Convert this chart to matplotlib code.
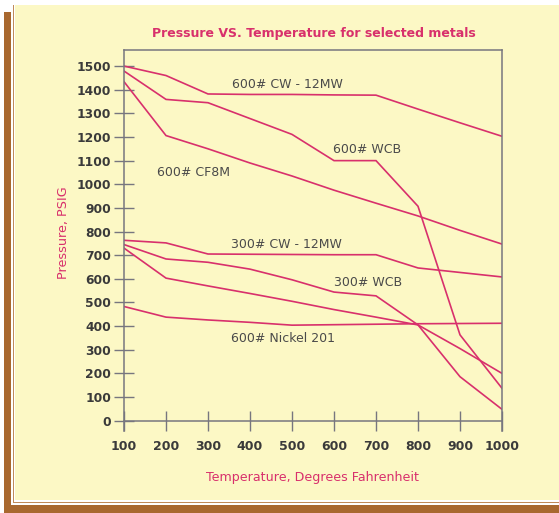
import matplotlib
matplotlib.use("Agg")
import matplotlib.pyplot as plt
from matplotlib.patches import Rectangle

# ---- data ----
temps = [100, 200, 300, 400, 500, 600, 700, 800, 900, 1000]
cw600 = [1500, 1460, 1382, 1380, 1380, 1378, 1377, 1318, 1260, 1203]
wcb600 = [1479, 1359, 1345, 1278, 1211, 1100, 1100, 907, 363, 137]
cf8m600 = [1434, 1206, 1150, 1090, 1035, 975, 920, 866, 805, 747]
cw300 = [763, 752, 705, 704, 703, 702, 702, 646, 627, 608]
wcb300 = [745, 684, 670, 641, 596, 544, 528, 405, 186, 48]
cf8m300 = [730, 603, 570, 538, 505, 470, 438, 405, 305, 200]
ni600 = [483, 438, 426, 416, 404, 406, 408, 410, 411, 412]

labels = ["600# CW - 12MW", "600# WCB", "600# CF8M",
          "300# CW - 12MW", "300# WCB", "600# Nickel 201"]
label_x = [488, 678, 265, 486, 681, 478]
label_y = [1423, 1148, 1049, 747, 585, 346]

yticks = list(range(0, 1501, 100))
title = "Pressure VS. Temperature for selected metals"
xlabel = "Temperature, Degrees Fahrenheit"
ylabel = "Pressure, PSIG"

# ---- style ----
W, H = 559, 513
cream = "#fcf8c5"
brown = "#a8682f"
red = "#d8306c"
grey = "#77767f"
txt = "#3a3a3a"

fig = plt.figure(figsize=(W / 100, H / 100), dpi=100)
fig.patch.set_facecolor("white")

def px_rect(x0, y0, x1, y1, color, z=-10):
    fig.patches.append(Rectangle((x0 / W, 1 - y1 / H), (x1 - x0) / W, (y1 - y0) / H,
                                 transform=fig.transFigure, facecolor=color,
                                 edgecolor="none", zorder=z))

# frame decoration
px_rect(4, 12, 11, 513, brown, -10)
px_rect(4, 505, 559, 513, brown, -10)
px_rect(13, 5, 559, 503, "#c08a5a", -9)
px_rect(14, 5, 559, 501.5, "white", -8)
px_rect(15, 5, 559, 500, cream, -7)

ax = fig.add_axes([124 / W, 1 - 430.6 / H, (502 - 124) / W, (430.6 - 50) / H])
ax.set_facecolor("none")

for s in [cw600, wcb600, cf8m600, cw300, wcb300, cf8m300, ni600]:
    ax.plot(temps, s, color=red, lw=1.2, solid_joinstyle="miter")

for lab, lx, ly in zip(labels, label_x, label_y):
    ax.text(lx, ly, lab, ha="center", va="center", fontsize=9, color="#4a4a4a")

ax.set_xlim(100, 1000)
ax.set_ylim(-42, 1568)
ax.spines["bottom"].set_position(("data", 0))
for sp in ax.spines.values():
    sp.set_color(grey)
    sp.set_linewidth(1.1)

ax.set_xticks(temps)
ax.set_xticklabels([str(t) for t in temps])
ax.set_yticks(yticks)
ax.set_yticklabels([str(v) for v in yticks])
ax.tick_params(axis="both", direction="inout", length=14.4, width=1.0, color=grey,
               labelcolor=txt)
ax.tick_params(axis="x", pad=6.5, labelsize=9)
ax.tick_params(axis="y", pad=2, labelsize=8.8)
for lbl in ax.get_xticklabels() + ax.get_yticklabels():
    lbl.set_fontweight("bold")

fig.text(314 / W, 1 - 33 / H, title, ha="center", va="center", fontsize=9,
         fontweight="bold", color=red)
fig.text(313 / W, 1 - 478 / H, xlabel, ha="center", va="center", fontsize=9.1, color=red)
fig.text(63 / W, 1 - 233 / H, ylabel, ha="center", va="center", fontsize=9.2,
         color=red, rotation=90)

fig.savefig("out.png", dpi=100, facecolor=fig.get_facecolor())
